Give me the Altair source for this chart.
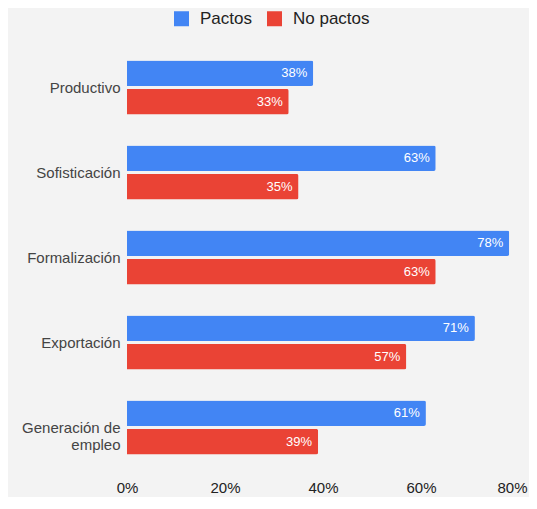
import altair as alt
import pandas as pd

categories = ["Productivo", "Sofisticación", "Formalización", "Exportación", "Generación de empleo"]
pactos = [38, 63, 78, 71, 61]
no_pactos = [33, 35, 63, 57, 39]
series = ["Pactos", "No pactos"]
colors = ["#4285f4", "#ea4335"]
x_ticks = [0, 20, 40, 60, 80]

rows = []
for c, p, n in zip(categories, pactos, no_pactos):
    rows.append({"cat": c, "serie": "Pactos", "val": p})
    rows.append({"cat": c, "serie": "No pactos", "val": n})
df = pd.DataFrame(rows)
df["label"] = df["val"].astype(str) + "%"

FONT = "Liberation Sans"

y_enc = alt.Y("cat:N", sort=categories, title=None,
              scale=alt.Scale(paddingInner=0.365, paddingOuter=0.1825),
              axis=alt.Axis(domain=False, ticks=False, labelPadding=7, labelFontSize=15,
                            labelColor="#444444", labelFont=FONT, labelLineHeight=17,
                            labelExpr="datum.value == 'Generación de empleo' ? ['Generación de', 'empleo'] : datum.value"))
yoff = alt.YOffset("serie:N", sort=series, scale=alt.Scale(paddingInner=0.1))
x_enc = alt.X("val:Q", title=None,
              scale=alt.Scale(domain=[0, 80], nice=False),
              axis=alt.Axis(values=x_ticks, labelExpr="datum.value + '%'", domain=False, ticks=False,
                            grid=False, labelFlush=False, labelPadding=10, labelFontSize=15,
                            labelColor="#222222", labelFont=FONT,
                            labelOffset={"condition": {"test": "datum.value === 80", "value": -7}, "value": 0}))

bars = alt.Chart(df).mark_bar(cornerRadiusEnd=2).encode(
    y=y_enc, yOffset=yoff, x=x_enc,
    color=alt.Color("serie:N", sort=series, scale=alt.Scale(domain=series, range=colors),
                    legend=alt.Legend(title=None, orient="none", legendX=46, legendY=-35,
                                      direction="horizontal", symbolType="square", symbolSize=225,
                                      symbolStrokeWidth=0, labelFontSize=17, labelFont=FONT,
                                      labelColor="#222222", columnPadding=14, labelOffset=10)),
)

texts = alt.Chart(df).mark_text(align="right", baseline="middle", dx=-6, color="white",
                                fontSize=13, font=FONT).encode(
    y=alt.Y("cat:N", sort=categories), yOffset=yoff, x=alt.X("val:Q"), text="label:N")

chart = alt.layer(bars, texts).properties(
    width=392, height=425, background="#f3f3f3",
    autosize=alt.AutoSizeParams(type="none"),
    padding={"left": 119, "top": 37, "right": 10, "bottom": 27},
).configure_view(stroke=None)

chart.save("out.html", embed_options={"renderer": "svg", "actions": False})
